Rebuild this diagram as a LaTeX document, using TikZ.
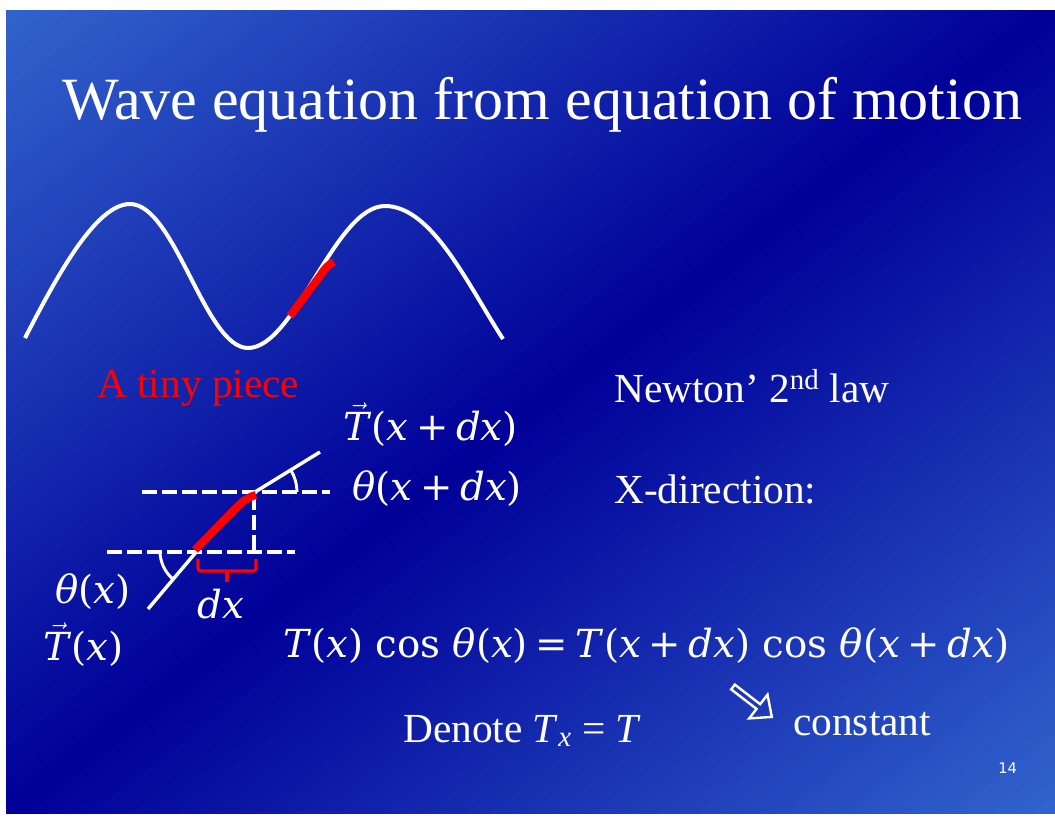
\documentclass[tikz,border=0pt]{standalone}
\usepackage{amsmath}
\usepackage{fontspec}
\setmainfont{Liberation Serif}
\newfontfamily\numfont{DejaVu Sans}
\newfontfamily\eqfont{DejaVu Serif}
\usetikzlibrary{positioning}
\definecolor{slidelight}{RGB}{50,100,205}
\definecolor{slidedark}{RGB}{0,0,152}
\definecolor{piecered}{RGB}{255,0,0}
\newcommand{\vv}[1]{\textit{#1}}
\newcommand{\op}[1]{\hspace{0.2em}#1\hspace{0.2em}}
\newcommand{\tvec}{$\vec{\mbox{\vv{T}}}$}

\begin{document}
\begin{tikzpicture}[x=0.75pt,y=-0.75pt,
  every node/.style={inner sep=0pt,anchor=base west,text=white},
  txt/.style={font=\fontsize{31}{36}\selectfont},
  mth/.style={font=\eqfont\fontsize{29}{34}\selectfont},
  dashline/.style={white,line width=3pt,dash pattern=on 11.25pt off 3.75pt},
  pull/.style={white,line width=2.6pt},
  piece/.style={piecered,line width=6pt}]
  \fill[white] (0,0) rectangle (1055,819);
  \begin{scope}
    \clip (6,10) rectangle (1055,813);
    \foreach \i in {0,...,99} {
      \pgfmathsetmacro\sa{\i/100}
      \pgfmathsetmacro\sb{(\i+1.6)/100}
      \pgfmathsetmacro\dk{100*(1-abs(2*(\i+0.5)/100-1))}
      \fill[slidedark!\dk!slidelight] (6+2*\sa*1049,10) -- (6,10+2*\sa*803)
        -- (6,10+2*\sb*803) -- (6+2*\sb*1049,10) -- cycle;
    }
  \end{scope}
  \useasboundingbox (0,0) rectangle (1055,819);

  \node[font=\fontsize{45}{52}\selectfont] (title) at (62,119) {Wave equation from equation of motion};

  % the string and the piece of it
  \draw[white,line width=3pt] (25,338) .. controls (55,280) and (95,204) .. (130,204)
    .. controls (175,204) and (205,348) .. (248,348)
    .. controls (295,348) and (335,206) .. (385,206)
    .. controls (432,206) and (468,285) .. (503,339);
  \draw[piece] (290,316) -- (320,276) .. controls (325,268) and (329,264) .. (334,262);
  \node[txt,text=piecered] (tiny) at (97,397) {A tiny piece};

  % the enlarged piece
  \coordinate (left) at (197,551);
  \coordinate (right) at (255,492);
  \draw[dashline] (142,492) -- (330,492);
  \draw[dashline] (107,552) -- (295,552);
  \draw[dashline] (254,495) -- (254,552);
  \draw[pull] (left) -- (148,609);
  \draw[pull] (right) -- (320,452);
  \draw[white,line width=2.2pt] (160,551) arc[start angle=180,end angle=130,radius=37];
  \draw[white,line width=2.2pt] (297,492) arc[start angle=0,end angle=-31.6,radius=42];
  \draw[piece] (195,550) -- (235,509) .. controls (243,501) and (248,497) .. (256,495);
  \draw[piecered,line width=2.4pt,rounded corners=2pt] (198,559) -- (198,571) -- (256,571) -- (256,559);
  \draw[piecered,line width=2.4pt] (227,571) -- (227,582);

  \node[mth] (tright) at (343,440) {\tvec(\vv{x}\op{+}\vv{dx})};
  \node[mth] (thright) at (352,500) {\vv{θ}(\vv{x}\op{+}\vv{dx})};
  \node[mth] (thleft) at (55,603) {\vv{θ}(\vv{x})};
  \node[mth] (tleft) at (43,660) {\tvec(\vv{x})};
  \node[mth] (dx) at (197,618) {\vv{dx}};

  \node[txt] (newton) at (614,402) {Newton’ 2\textsuperscript{nd} law};
  \node[txt] (xdir) at (614,503) {X-direction:};
  \node[mth] (balance) at (283,657)
    {\vv{T}(\vv{x}) cos \vv{θ}(\vv{x})\op{=}\vv{T}(\vv{x}\op{+}\vv{dx}) cos \vv{θ}(\vv{x}\op{+}\vv{dx})};
  \node[txt] (denote) at (403,742) {Denote \vv{T}$_{\vv{x}}$ = \vv{T}};
  \node[txt] (const) at (793,735) {constant};

  \coordinate (arrowtail) at (733,687);
  \draw[white,line width=1.8pt,shift={(arrowtail)},rotate=-37.6]
    (0,3) -- (32,3) -- (32,15) -- (49,0) -- (32,-15) -- (32,-3) -- (0,-3) -- cycle;

  \node[font=\numfont\fontsize{11}{13}\selectfont] (page) at (998,773) {14};
\end{tikzpicture}
\end{document}
